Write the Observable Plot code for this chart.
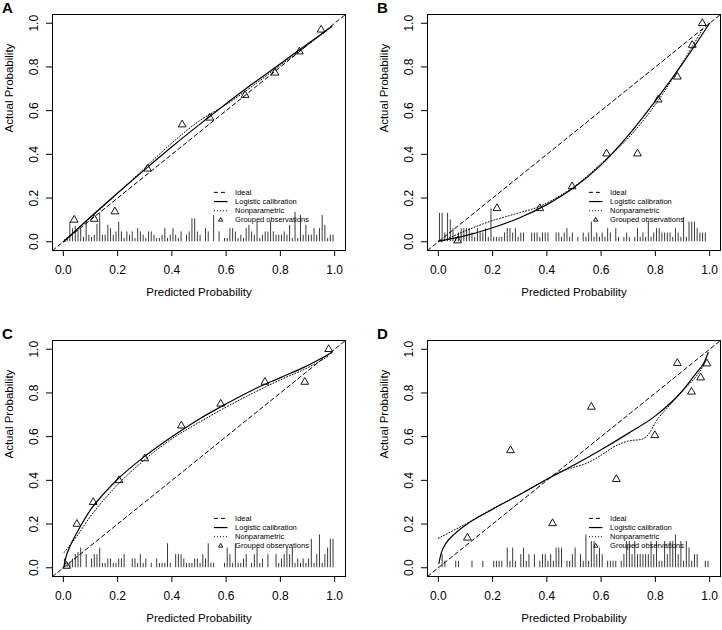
<!DOCTYPE html>
<html><head><meta charset="utf-8">
<script src="https://cdn.jsdelivr.net/npm/d3@7"></script>
<script src="https://cdn.jsdelivr.net/npm/@observablehq/plot@0.6"></script>
<style>
html,body{margin:0;padding:0;background:#fff;width:722px;height:630px;overflow:hidden;position:relative;}
.panel{position:absolute;width:361px;height:315px;}
.letter{position:absolute;left:2px;top:0px;font:bold 15px "Liberation Sans",Arial,sans-serif;line-height:15px;color:#000;}
</style></head><body>
<script>
const legendLabels = ["Ideal", "Logistic calibration", "Nonparametric", "Grouped observations"];
const axisTicks = [0, 0.2, 0.4, 0.6, 0.8, 1.0];
const xTitle = "Predicted Probability";
const yTitle = "Actual Probability";

// Panel A
const aGroupX = [0.04, 0.114, 0.19, 0.31, 0.438, 0.54, 0.67, 0.78, 0.87, 0.95];
const aGroupY = [0.10, 0.104, 0.138, 0.334, 0.536, 0.567, 0.671, 0.773, 0.87, 0.97];
const aLogX = [0, 0.1, 0.2, 0.3, 0.4, 0.5, 0.6, 0.7, 0.8, 0.9, 0.99];
const aLogY = [0.0, 0.113, 0.223, 0.33, 0.435, 0.535, 0.632, 0.725, 0.815, 0.905, 0.985];
const aNpX = [0.005, 0.05, 0.1, 0.15, 0.2, 0.3, 0.4, 0.5, 0.6, 0.7, 0.8, 0.9, 0.97];
const aNpY = [0.0, 0.055, 0.11, 0.165, 0.222, 0.337, 0.452, 0.552, 0.628, 0.715, 0.808, 0.9, 0.965];
const aSpikes = [0.01,0.02,0.09,0.06,0.07,0.06,0.06,0.02,0.09,0.03, 0.02,0.03,0.08,0.13,0.03,0.03,0.075,0.06,0.03,0.045,
  0.09,0.045,0.015,0.045,0.03,0.045,0.015,0.06,0.045,0.03, 0.015,0.045,0.045,0.03,0.015,0.015,0.03,0.06,0.015,0.03,
  0.06,0.03,0.015,0.045,0,0.03,0.045,0.105,0.105,0.045, 0.03,0,0.06,0.045,0,0.12,0,0.045,0,0.015,
  0.015,0.06,0.06,0.045,0.015,0.03,0.015,0.06,0.075,0.045, 0.03,0.09,0.015,0.03,0.045,0.045,0.09,0.045,0.03,0.03,
  0.03,0.045,0.03,0.075,0.015,0.135,0.015,0.12,0.03,0.075, 0.03,0.03,0.06,0.03,0.06,0.12,0.075,0.015,0.03,0.03];

// Panel B
const bGroupX = [0.071, 0.216, 0.374, 0.493, 0.62, 0.734, 0.81, 0.881, 0.936, 0.973];
const bGroupY = [0.005, 0.153, 0.153, 0.253, 0.403, 0.403, 0.65, 0.755, 0.90, 1.0];
const bLogX = [0, 0.1, 0.2, 0.3, 0.4, 0.5, 0.6, 0.7, 0.8, 0.9, 1.0];
const bLogY = [0.003, 0.028, 0.064, 0.11, 0.17, 0.248, 0.352, 0.487, 0.645, 0.815, 1.0];
const bNpX = [0.01, 0.1, 0.2, 0.3, 0.37, 0.45, 0.5, 0.6, 0.7, 0.8, 0.9, 0.975];
const bNpY = [0.0, 0.05, 0.097, 0.133, 0.16, 0.212, 0.252, 0.358, 0.475, 0.628, 0.82, 0.975];
const bSpikes = [0.13,0.13,0.04,0.13,0.10,0.06,0.02,0.04,0.06,0.06, 0.06,0.06,0.04,0.02,0.06,0.04,0.04,0.06,0.02,0.15,
  0.02,0.02,0.02,0.02,0.04,0.06,0.06,0.04,0.06,0.02, 0.04,0.04,0,0,0.04,0.04,0.04,0.02,0.04,0.04,
  0.04,0,0,0.04,0.04,0.02,0.04,0.06,0.02,0.04, 0,0.02,0,0.04,0.02,0.04,0.09,0.02,0.04,0.02,
  0.04,0.02,0.06,0.04,0,0.06,0.02,0,0.02,0.04, 0.02,0,0.02,0.06,0.02,0.04,0.02,0.09,0.02,0.04,
  0.06,0.06,0.04,0.04,0.04,0.04,0.02,0.06,0.04,0.02, 0.11,0.02,0.09,0.09,0.09,0.06,0.04,0.04,0.04,0];

// Panel C
const cGroupX = [0.012, 0.05, 0.11, 0.205, 0.30, 0.435, 0.58, 0.743, 0.89, 0.978];
const cGroupY = [0.008, 0.20, 0.30, 0.40, 0.50, 0.65, 0.75, 0.85, 0.85, 1.0];
const cLogX = [0.003, 0.01, 0.025, 0.05, 0.1, 0.15, 0.2, 0.3, 0.4, 0.5, 0.6, 0.7, 0.8, 0.9, 0.99];
const cLogY = [0.01, 0.05, 0.1, 0.16, 0.265, 0.34, 0.405, 0.51, 0.6, 0.68, 0.75, 0.815, 0.87, 0.925, 0.985];
const cNpX = [0.003, 0.05, 0.1, 0.2, 0.3, 0.4, 0.5, 0.6, 0.7, 0.8, 0.9, 0.98];
const cNpY = [0.07, 0.145, 0.235, 0.38, 0.495, 0.59, 0.665, 0.735, 0.8, 0.86, 0.915, 0.97];
const cSpikes = [0.04,0.02,0.02,0.04,0.06,0.07,0.09,0,0.06,0, 0.04,0.06,0.06,0.09,0.02,0.02,0.04,0.04,0.02,0.02,
  0.04,0.04,0.06,0,0,0.04,0.04,0.02,0.06,0.02, 0.04,0,0.02,0,0.04,0.02,0.02,0.02,0.11,0.02,
  0,0.06,0.06,0.06,0.04,0.02,0.02,0.02,0.04,0.04, 0.02,0.06,0.04,0.11,0.02,0.02,0,0,0,0.02,
  0.09,0.06,0.02,0.11,0.02,0.02,0.04,0.06,0,0.02, 0.06,0.09,0.02,0.04,0,0.06,0,0,0.06,0.02,
  0.04,0.06,0.09,0.06,0.09,0.02,0.04,0.02,0.04,0.02, 0.04,0.13,0.02,0.06,0.15,0.02,0.06,0.09,0.13,0.13];

// Panel D
const dGroupX = [0.107, 0.266, 0.421, 0.564, 0.656, 0.798, 0.881, 0.933, 0.967, 0.99];
const dGroupY = [0.137, 0.537, 0.203, 0.736, 0.405, 0.606, 0.936, 0.805, 0.87, 0.934];
const dLogX = [0.002, 0.01, 0.03, 0.06, 0.1, 0.2, 0.3, 0.4, 0.5, 0.6, 0.7, 0.8, 0.9, 0.95, 0.98, 0.995];
const dLogY = [0.02, 0.065, 0.115, 0.155, 0.195, 0.268, 0.335, 0.405, 0.47, 0.54, 0.615, 0.695, 0.81, 0.89, 0.94, 0.985];
const dNpX = [0.0, 0.1, 0.2, 0.3, 0.4, 0.45, 0.5, 0.55, 0.6, 0.65, 0.7, 0.75, 0.78, 0.8, 0.85, 0.9, 0.95, 0.98];
const dNpY = [0.135, 0.2, 0.27, 0.335, 0.405, 0.44, 0.46, 0.48, 0.515, 0.555, 0.58, 0.588, 0.62, 0.665, 0.74, 0.81, 0.875, 0.93];
const dSpikes = [0,0.06,0.03,0,0,0,0.03,0.03,0,0, 0,0,0.03,0,0,0,0.03,0,0,0,
  0.03,0.03,0.03,0.03,0,0.09,0.03,0.09,0.03,0, 0.06,0.09,0.03,0.06,0,0.06,0,0.03,0.06,0.06,
  0.03,0.06,0.03,0.09,0.09,0.09,0,0.03,0.03,0.06, 0.09,0,0.06,0.03,0.15,0.03,0.12,0.12,0.06,0.09,
  0.06,0,0.03,0.03,0.03,0.03,0,0.03,0.06,0.12, 0.12,0.06,0.12,0.06,0.06,0.06,0.06,0.06,0.12,0.06,
  0.12,0.03,0.03,0.12,0.06,0.12,0.12,0.15,0.06,0.12, 0.03,0.12,0.09,0.03,0.06,0.06,0,0,0.03,0.03];

const FONT = '"Liberation Sans", Arial, Helvetica, sans-serif';
const fmt = d3.format(".1f");
const pairs = (xs, ys) => xs.map((x, i) => ({x, y: ys[i]}));

function makePanel(letter, gx, gy, lx, ly, nx, ny, spikes, left, top) {
  const dom = [-0.04, 1.04];
  const groups = pairs(gx, gy);
  const logis = pairs(lx, ly);
  const np = pairs(nx, ny);
  const sp = spikes.map((h, i) => ({x: (i + 0.4) / 100, h})).filter(d => d.h > 0);
  const ideal = pairs(dom, dom);
  const leg = legendLabels.map((label, i) => ({label, i, y: 0.226 - i * 0.042}));
  const chart = Plot.plot({
    width: 361, height: 315,
    marginLeft: 52, marginRight: 16, marginTop: 14, marginBottom: 65,
    x: {domain: dom}, y: {domain: dom},
    style: {fontFamily: FONT, background: "white", color: "black", overflow: "visible"},
    marks: [
      Plot.ruleX(sp, {x: "x", y1: 0, y2: "h", stroke: "#3a3a3a", strokeWidth: 1}),
      Plot.line(ideal, {x: "x", y: "y", stroke: "black", strokeWidth: 1, strokeDasharray: "4,3"}),
      Plot.line(np, {x: "x", y: "y", curve: "monotone-x", stroke: "black", strokeWidth: 1, strokeDasharray: "1,2"}),
      Plot.line(logis, {x: "x", y: "y", curve: "monotone-x", stroke: "black", strokeWidth: 1.2}),
      Plot.dot(groups, {x: "x", y: "y", symbol: "triangle", r: 2.9, stroke: "black", fill: "none", strokeWidth: 0.9}),
      // legend
      Plot.link([leg[0]], {x1: 0.555, x2: 0.605, y1: "y", y2: "y", stroke: "black", strokeDasharray: "4,3"}),
      Plot.link([leg[1]], {x1: 0.555, x2: 0.605, y1: "y", y2: "y", stroke: "black", strokeWidth: 1.2}),
      Plot.link([leg[2]], {x1: 0.555, x2: 0.605, y1: "y", y2: "y", stroke: "black", strokeDasharray: "1,2"}),
      Plot.dot([leg[3]], {x: 0.58, y: "y", symbol: "triangle", r: 1.6, stroke: "black", fill: "none", strokeWidth: 0.9}),
      Plot.text(leg, {x: 0.633, y: "y", text: "label", textAnchor: "start", fontSize: 7.5, fill: "black"}),
      Plot.frame({stroke: "black", strokeWidth: 1}),
      Plot.axisX({ticks: axisTicks, tickFormat: fmt, tickSize: 6, tickPadding: 8.5, fontSize: 12, label: null}),
      Plot.axisY({ticks: axisTicks, tickFormat: fmt, tickSize: 6, tickPadding: 8.5, tickRotate: -90, fontSize: 12, label: null}),
      Plot.text([xTitle], {frameAnchor: "bottom", dy: 45, text: d => d, fontSize: 11.5, fill: "black"}),
      Plot.text([yTitle], {frameAnchor: "left", dx: -43, rotate: -90, text: d => d, fontSize: 11.5, fill: "black"})
    ]
  });
  const div = document.createElement("div");
  div.className = "panel";
  div.style.left = left + "px";
  div.style.top = top + "px";
  div.appendChild(chart);
  const l = document.createElement("div");
  l.className = "letter";
  l.textContent = letter;
  div.appendChild(l);
  document.body.appendChild(div);
}

makePanel("A", aGroupX, aGroupY, aLogX, aLogY, aNpX, aNpY, aSpikes, 0, 0);
makePanel("B", bGroupX, bGroupY, bLogX, bLogY, bNpX, bNpY, bSpikes, 375, 0);
makePanel("C", cGroupX, cGroupY, cLogX, cLogY, cNpX, cNpY, cSpikes, 0, 326);
makePanel("D", dGroupX, dGroupY, dLogX, dLogY, dNpX, dNpY, dSpikes, 375, 326);
</script>
</body></html>
